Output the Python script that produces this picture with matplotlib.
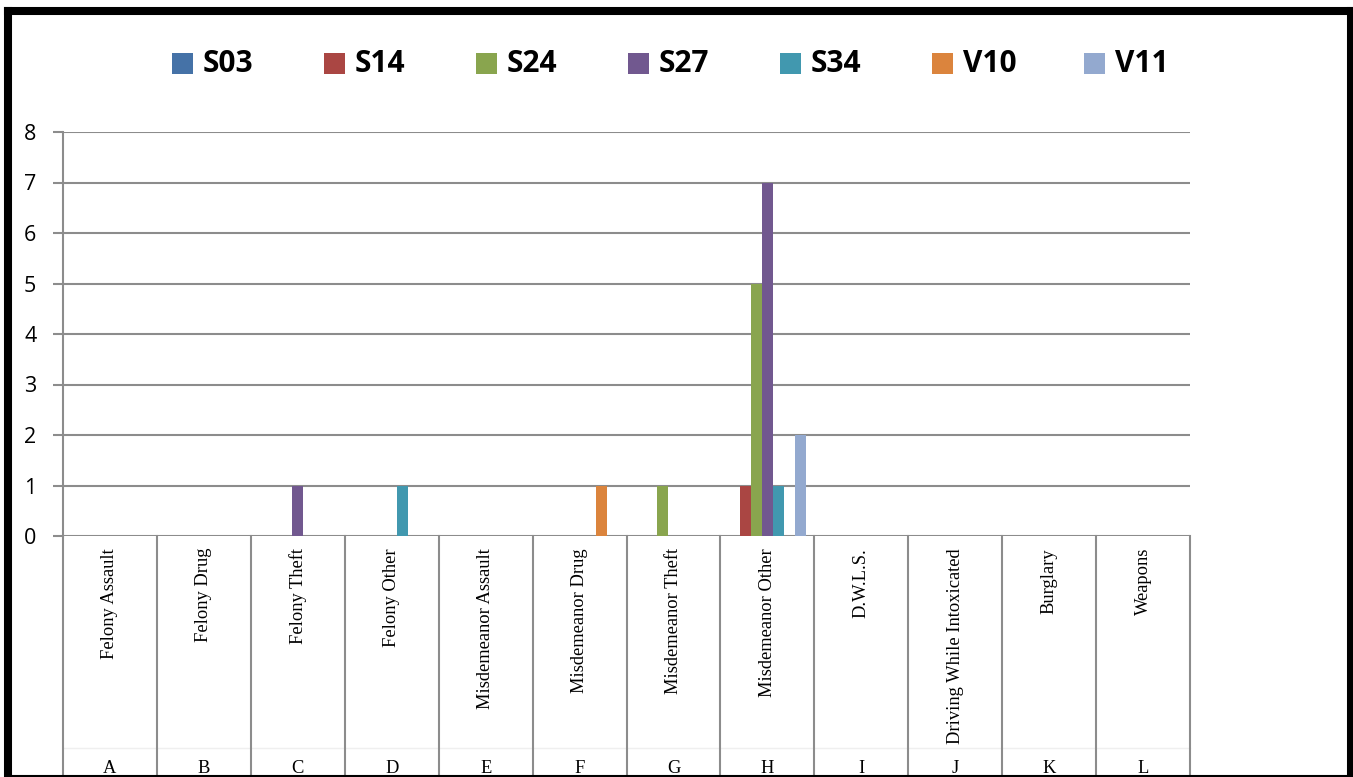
import matplotlib
matplotlib.use("Agg")
import matplotlib.pyplot as plt
from matplotlib.patches import Rectangle
from matplotlib.lines import Line2D
import numpy as np

categories = ["Felony Assault", "Felony Drug", "Felony Theft", "Felony Other",
              "Misdemeanor Assault", "Misdemeanor Drug", "Misdemeanor Theft",
              "Misdemeanor Other", "D.W.L.S.", "Driving While Intoxicated",
              "Burglary", "Weapons"]
letters = ["A", "B", "C", "D", "E", "F", "G", "H", "I", "J", "K", "L"]
series_names = ["S03", "S14", "S24", "S27", "S34", "V10", "V11"]
S03 = [0, 0, 0, 0, 0, 0, 0, 0, 0, 0, 0, 0]
S14 = [0, 0, 0, 0, 0, 0, 0, 1, 0, 0, 0, 0]
S24 = [0, 0, 0, 0, 0, 0, 1, 5, 0, 0, 0, 0]
S27 = [0, 0, 1, 0, 0, 0, 0, 7, 0, 0, 0, 0]
S34 = [0, 0, 0, 1, 0, 0, 0, 1, 0, 0, 0, 0]
V10 = [0, 0, 0, 0, 0, 1, 0, 0, 0, 0, 0, 0]
V11 = [0, 0, 0, 0, 0, 0, 0, 2, 0, 0, 0, 0]
series_values = [S03, S14, S24, S27, S34, V10, V11]
colors = ["#4572A7", "#AA4643", "#89A54E", "#71588F", "#4198AF", "#DB843D", "#93A9CF"]
yticks = [0, 1, 2, 3, 4, 5, 6, 7, 8]

W, H = 1353, 777
fig = plt.figure(figsize=(W / 100, H / 100), dpi=100)
fig.patch.set_facecolor("white")

ax_left, ax_right, ax_top, ax_bot = 63, 1190, 132, 536
ax = fig.add_axes([ax_left / W, 1 - ax_bot / H, (ax_right - ax_left) / W, (ax_bot - ax_top) / H])

n = len(categories)
ns = len(series_names)
group = 0.82
bw = group / ns
x = np.arange(n)
for i, (name, vals, c) in enumerate(zip(series_names, series_values, colors)):
    ax.bar(x + (1 - group) / 2 + i * bw, vals, width=bw, align="edge", color=c,
           linewidth=0, zorder=3, label=name)

ax.set_xlim(0, n)
ax.set_ylim(0, 8)
ax.set_yticks(yticks)
ax.set_yticklabels([str(t) for t in yticks], fontfamily="Open Sans", fontsize=15.5)
ax.set_xticks([])
grid_c = "#8c8c8c"
ax.yaxis.grid(True, color=grid_c, linewidth=1.5, zorder=0)
ax.tick_params(axis="y", length=7.2, width=1.5, color=grid_c, pad=12, direction="out")
for s in ["top", "right", "bottom"]:
    ax.spines[s].set_visible(False)
ax.spines["left"].set_color(grid_c)
ax.spines["left"].set_linewidth(1.5)

# category separators below the axis
bottom_frac = -(777 - ax_bot) / (ax_bot - ax_top)
tr = ax.get_xaxis_transform()
for b in range(n + 1):
    ax.plot([b, b], [0, bottom_frac], transform=tr, color=grid_c, lw=1.5, clip_on=False, zorder=1)
ax.plot([0, n], [-(748 - ax_bot) / (ax_bot - ax_top)] * 2, transform=tr, color="#efefef",
        lw=1, clip_on=False, zorder=0)

# category labels
lab_top = -(548 - ax_bot) / (ax_bot - ax_top)
let_base = -(773 - ax_bot) / (ax_bot - ax_top)
for i, (cat, let) in enumerate(zip(categories, letters)):
    ax.text(i + 0.5, lab_top, cat, transform=tr, rotation=90, ha="center", va="top",
            fontfamily="Liberation Serif", fontsize=13.3, clip_on=False)
    ax.text(i + 0.5, let_base, let, transform=tr, ha="center", va="baseline",
            fontfamily="Liberation Serif", fontsize=13.3, clip_on=False)

# legend (manual)
for i, (name, c) in enumerate(zip(series_names, colors)):
    mx = 172 + i * 152
    fig.add_artist(Rectangle((mx / W, 1 - 74 / H), 21 / W, 21 / H, transform=fig.transFigure,
                             facecolor=c, edgecolor="none"))
    fig.text((mx + 31) / W, 1 - 64 / H, name, fontfamily="Open Sans", fontweight="bold",
             fontsize=21.5, ha="left", va="center")

# border
def fline(xs, ys, lw, color="black"):
    fig.add_artist(Line2D([v / W for v in xs], [1 - v / H for v in ys], transform=fig.transFigure,
                          color=color, lw=lw, solid_capstyle="projecting"))

fline([8, 1352], [11, 11], 5.8)
fline([8, 8], [11, 777], 5.8)
fline([1351, 1351], [11, 777], 5.8)
fline([8, 1352], [776, 776], 1.5)

fig.savefig("out.png", dpi=100)
